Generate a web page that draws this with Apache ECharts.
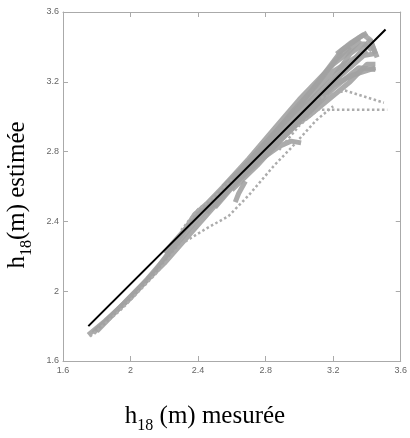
<!DOCTYPE html>
<html><head><meta charset="utf-8">
<script src="https://cdn.jsdelivr.net/npm/echarts@6/dist/echarts.min.js"></script>
<style>html,body{margin:0;padding:0;background:#fff}#c{width:410px;height:438px}</style>
</head><body><div id="c"></div>
<script>
// Axis ticks
const xTicks = [1.6, 2, 2.4, 2.8, 3.2, 3.6];
const yTicks = [1.6, 2, 2.4, 2.8, 3.2, 3.6];
// Reference line (black)
const refLine = [[1.75,1.8],[3.51,3.5]];
// Gray solid traces
const g1 = [[1.75,1.75],[1.85,1.83],[2.0,1.96],[2.15,2.12],[2.3,2.32],[2.38,2.44],[2.45,2.5],[2.55,2.6],[2.7,2.74],[2.85,2.9],[3.0,3.06],[3.15,3.25],[3.25,3.38],[3.35,3.45],[3.4,3.48]];
const g2 = [[1.78,1.76],[1.95,1.92],[2.1,2.07],[2.25,2.24],[2.4,2.42],[2.55,2.56],[2.7,2.72],[2.85,2.86],[3.0,3.0],[3.15,3.15],[3.3,3.3],[3.42,3.44],[3.46,3.34]];
const g3 = [[1.8,1.77],[2.0,1.97],[2.2,2.16],[2.4,2.38],[2.6,2.6],[2.8,2.78],[3.0,2.97],[3.2,3.16],[3.35,3.28],[3.45,3.27]];
const g4 = [[2.2,2.22],[2.4,2.44],[2.6,2.64],[2.8,2.85],[3.0,3.03],[3.2,3.22],[3.3,3.36],[3.38,3.42],[3.43,3.38]];
const g5 = [[2.5,2.53],[2.65,2.68],[2.8,2.84],[2.95,3.02],[3.1,3.18],[3.22,3.33],[3.3,3.4]];
const g6 = [[2.68,2.63],[2.64,2.56],[2.62,2.51]];
const g7 = [[2.78,2.76],[2.88,2.83],[2.95,2.86],[3.01,2.85]];
const g8 = [[2.9,2.9],[3.05,3.0],[3.2,3.12],[3.3,3.2],[3.4,3.3],[3.45,3.3]];
const g9 = [[2.45,2.45],[2.6,2.62],[2.75,2.8],[2.9,2.96],[3.05,3.1],[3.2,3.26],[3.3,3.32],[3.4,3.38]];
const g10 = [[2.5,2.48],[2.65,2.65],[2.8,2.8],[2.95,2.95],[3.1,3.1],[3.25,3.24],[3.38,3.35],[3.44,3.36]];
const g11 = [[2.55,2.6],[2.7,2.76],[2.85,2.93],[3.0,3.1],[3.12,3.22],[3.2,3.3],[3.28,3.36],[3.36,3.44]];
const g12 = [[2.6,2.58],[2.75,2.72],[2.9,2.88],[3.05,3.02],[3.2,3.18],[3.32,3.24],[3.45,3.28]];
const g13 = [[3.22,3.36],[3.3,3.42],[3.38,3.47],[3.42,3.44],[3.45,3.36]];
// Gray dotted traces
const d1 = [[1.76,1.74],[1.95,1.9],[2.15,2.1],[2.3,2.27],[2.45,2.36],[2.58,2.43],[2.7,2.55],[2.85,2.72],[2.95,2.82],[3.1,2.98],[3.2,3.06]];
const d2 = [[2.88,2.81],[3.0,2.95],[3.11,3.04],[3.3,3.04],[3.52,3.04]];
const d3 = [[2.3,2.35],[2.4,2.47],[2.5,2.54],[2.6,2.64]];
const d5 = [[3.1,3.1],[3.27,3.15],[3.5,3.08]];

const solid = [g1,g2,g3,g4,g5,g6,g7,g8,g9,g10,g11,g12,g13];
const dotted = [d1,d2,d3,d5];

const chart = echarts.init(document.getElementById('c'));
const labelStyle = {color:'#666', fontSize:9, fontFamily:'Liberation Sans, Arial'};
const axisLine = {show:true, lineStyle:{color:'#aaa', width:1}};
const series = [];
solid.forEach(d => series.push({type:'line', data:d, symbol:'none', z:2,
  lineStyle:{color:'#a2a2a2', width:5, opacity:0.9}}));
dotted.forEach(d => series.push({type:'line', data:d, symbol:'none', z:2,
  lineStyle:{color:'#acacac', width:2.5, type:'dotted'}}));
series.push({type:'line', data:refLine, symbol:'none', z:5, lineStyle:{color:'#000', width:2}});

chart.setOption({
  animation:false,
  backgroundColor:'#fff',
  grid:{left:63, right:6, top:12, bottom:77},
  xAxis:[
    {type:'value', min:1.6, max:3.6, interval:0.4, position:'bottom',
     axisLine, axisTick:{inside:true, length:5, lineStyle:{color:'#aaa'}},
     splitLine:{show:false}, axisLabel:{...labelStyle, margin:5, showMinLabel:true, showMaxLabel:true}},
    {type:'value', min:1.6, max:3.6, interval:0.4, position:'top',
     axisLine, axisTick:{inside:true, length:5, lineStyle:{color:'#aaa'}},
     splitLine:{show:false}, axisLabel:{show:false}}
  ],
  yAxis:[
    {type:'value', min:1.6, max:3.6, interval:0.4, position:'left',
     axisLine, axisTick:{inside:true, length:5, lineStyle:{color:'#aaa'}},
     splitLine:{show:false}, axisLabel:{...labelStyle, margin:4, showMinLabel:true, showMaxLabel:true}},
    {type:'value', min:1.6, max:3.6, interval:0.4, position:'right',
     axisLine, axisTick:{inside:true, length:5, lineStyle:{color:'#aaa'}},
     splitLine:{show:false}, axisLabel:{show:false}}
  ],
  graphic:[
    {type:'text', left:'center', top:404, x:0,
     style:{rich:{
        a:{fontFamily:'Liberation Serif, Times New Roman', fontSize:25, fill:'#000', verticalAlign:'bottom'},
        s:{fontFamily:'Liberation Serif, Times New Roman', fontSize:16, fill:'#000', verticalAlign:'bottom', padding:[0,0,-5,0]}
      }, text:'{a|h}{s|18}{a| (m) mesurée}'}},
    {type:'text', x:17, y:195, rotation:Math.PI/2,
     style:{rich:{
        a:{fontFamily:'Liberation Serif, Times New Roman', fontSize:25, fill:'#000', verticalAlign:'bottom'},
        s:{fontFamily:'Liberation Serif, Times New Roman', fontSize:16, fill:'#000', verticalAlign:'bottom', padding:[0,0,-5,0]}
      }, text:'{a|h}{s|18}{a|(m) estimée}', align:'center', verticalAlign:'middle'}}
  ],
  series
});
</script></body></html>
